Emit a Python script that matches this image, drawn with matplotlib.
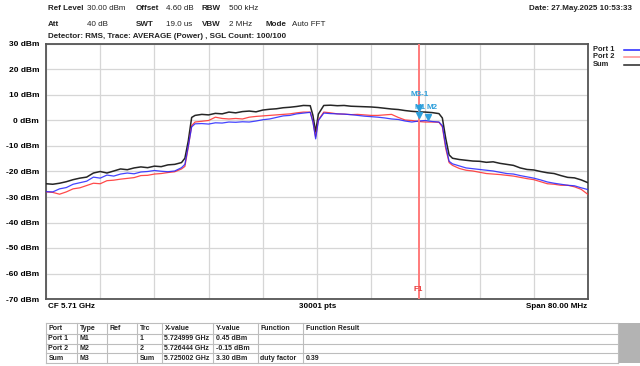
import matplotlib
matplotlib.use("Agg")
import matplotlib.pyplot as plt
from matplotlib.patches import Rectangle

plt.rcParams["font.family"] = ["Liberation Sans", "DejaVu Sans"]

# frequency offset from start (MHz), start = CF - span/2
CF_GHZ = 5.71
SPAN_MHZ = 80.0
offset_mhz = [
    0, 1, 2, 3, 4, 5, 6, 7, 8, 9, 10, 11, 12, 13, 14, 15, 16, 17, 18, 19, 20,
    20.5, 21, 21.5,
    22, 23, 24, 25, 26, 27, 28, 29, 30, 31, 32, 33, 34, 35, 36, 37, 38, 39,
    39.4, 39.8, 40.2,
    41, 42, 43, 44, 45, 46, 47, 48, 49, 50, 51, 52, 53, 54, 55, 56, 57, 58,
    58.5, 59, 59.5,
    60, 61, 62, 63, 64, 65, 66, 67, 68, 69, 70, 71, 72, 73, 74, 75, 76, 77, 78, 79, 80,
]
sum_dbm = [
    -24.8, -25.0, -24.6, -24.0, -23.2, -22.6, -22.2, -20.6, -20.0, -20.6, -19.8,
    -19.0, -19.3, -18.6, -18.2, -18.5, -17.9, -18.1, -17.4, -17.2, -16.5,
    -14.8, -8.0, 1.2,
    2.0, 2.4, 2.2, 2.8, 2.6, 3.3, 3.0, 3.5, 3.7, 3.4, 4.1, 4.4, 4.6, 5.0, 5.2, 5.5, 5.9, 5.8,
    2.0, -4.5, 2.5,
    5.9, 6.0, 5.8, 5.9, 5.6, 5.5, 5.4, 5.3, 5.1, 4.8, 4.5, 4.3, 3.9, 3.6, 3.4, 3.3, 3.1, 2.7,
    1.0, -7.0, -13.5,
    -14.8, -15.3, -15.6, -15.9, -16.0, -16.4, -16.2, -16.8, -17.2, -17.6, -18.6,
    -19.2, -19.4, -20.0, -20.5, -20.8, -21.6, -22.3, -22.5, -23.3, -24.4,
]
port1_dbm = [
    -27.9, -28.0, -26.8, -26.3, -25.0, -24.4, -23.8, -22.2, -22.6, -21.4, -21.8,
    -21.0, -20.6, -20.9, -20.2, -20.0, -19.6, -19.9, -20.1, -19.8, -18.5,
    -17.2, -10.0, -2.5,
    -1.3, -1.2, -1.4, -0.9, -1.0, -0.6, -0.7, -0.5, -0.6, -0.2, 0.3, 0.6, 1.2, 1.8, 2.0, 2.6, 2.9, 3.2,
    -0.5, -7.2, 0.0,
    2.9, 2.7, 2.6, 2.5, 2.3, 2.0, 1.7, 1.5, 1.3, 1.0, 0.6, 0.4, -0.2, -0.6, -0.2, 0.0, -0.4, -0.6,
    -2.0, -10.0, -16.0,
    -17.0, -17.8, -18.6, -18.9, -19.2, -19.5, -19.8, -20.3, -20.8, -21.0, -21.6,
    -22.1, -22.6, -23.3, -24.1, -24.6, -25.0, -25.4, -25.6, -26.4, -27.1,
]
port2_dbm = [
    -28.0, -28.2, -28.9, -28.0, -26.8, -26.4, -25.5, -24.6, -24.8, -23.6, -23.4,
    -23.0, -22.7, -22.4, -21.6, -21.5, -21.0, -20.8, -20.4, -20.1, -19.0,
    -18.0, -10.5, -2.0,
    -0.6, -0.3, 0.0, 1.3, 0.8, 0.6, 0.8, 0.6, 1.3, 1.6, 1.8, 2.0, 2.2, 2.4, 2.6, 3.0, 3.3, 3.3,
    -0.5, -6.5, 0.2,
    3.3, 3.0, 2.6, 2.5, 2.3, 2.4, 2.2, 2.0, 2.0, 2.2, 2.4, 1.2, 0.2, 0.0, -0.4, -0.6, -0.6, -0.7,
    -2.5, -11.0, -16.5,
    -17.6, -18.8, -19.5, -19.8, -20.3, -20.8, -21.0, -21.2, -21.5, -21.8, -22.3,
    -22.8, -23.2, -24.0, -24.8, -25.0, -25.4, -25.4, -26.0, -27.0, -29.0,
]

y_ticks = [30, 20, 10, 0, -10, -20, -30, -40, -50, -60, -70]
f1_ghz = 5.725
marker_names = ["M1", "M2", "M3"]
marker_x_ghz = [5.724999, 5.726444, 5.725002]
marker_y_dbm = [0.45, -0.15, 3.30]

header_rows = [
    [("Ref Level", True, 48), ("30.00 dBm", False, 87), ("Offset", True, 136),
     ("4.60 dB", False, 166), ("RBW", True, 202), ("500 kHz", False, 229)],
    [("Att", True, 48), ("40 dB", False, 87), ("SWT", True, 136),
     ("19.0 us", False, 166), ("VBW", True, 202), ("2 MHz", False, 229),
     ("Mode", True, 266), ("Auto FFT", False, 292)],
]
table_cols = ["Port", "Type", "Ref", "Trc", "X-value", "Y-value", "Function", "Function Result"]
table_rows = [
    ["Port 1", "M1", "", "1", "5.724999 GHz", "0.45 dBm", "", ""],
    ["Port 2", "M2", "", "2", "5.726444 GHz", "-0.15 dBm", "", ""],
    ["Sum", "M3", "", "Sum", "5.725002 GHz", "3.30 dBm", "duty factor", "0.39"],
]

BLUE, RED, BLACK = "#2323ff", "#ff2a2a", "#262626"
MARK = "#2e9fdb"
W, H = 640, 366

freq = [CF_GHZ - SPAN_MHZ / 2000 + o / 1000 for o in offset_mhz]
f_lo, f_hi = CF_GHZ - SPAN_MHZ / 2000, CF_GHZ + SPAN_MHZ / 2000

fig = plt.figure(figsize=(6.4, 3.66), dpi=100)
fig.patch.set_facecolor("white")

# main trace area
x0, x1, y0, y1 = 46, 588, 44, 299
ax = fig.add_axes([x0 / W, 1 - y1 / H, (x1 - x0) / W, (y1 - y0) / H])
ax.plot(freq, sum_dbm, color=BLACK, lw=1.1, zorder=3)
ax.plot(freq, port2_dbm, color=RED, lw=0.9, alpha=0.85, zorder=4)
ax.plot(freq, port1_dbm, color=BLUE, lw=0.9, alpha=0.85, zorder=4)
ax.set_xlim(f_lo, f_hi)
ax.set_ylim(-70, 30)
ax.set_xticks([f_lo + i * (f_hi - f_lo) / 10 for i in range(11)])
ax.set_xticklabels([])
ax.set_yticks(y_ticks, [f"{v} dBm" for v in y_ticks])
ax.tick_params(length=0, labelsize=6.0, pad=5)
for lbl in ax.get_yticklabels():
    lbl.set_fontweight("bold")
ax.grid(True, color="#d6d6d6", lw=0.9)
ax.set_axisbelow(True)
for sp in ax.spines.values():
    sp.set_color("#555555")
    sp.set_linewidth(1.3)

# F1 frequency line and markers
ax.axvline(f1_ghz, color="#ff7b7b", lw=1.4, zorder=5)
ax.text(f1_ghz, -67.5, "F1", color="#e83a3a", fontsize=5.8, fontweight="bold",
        ha="center", va="bottom", zorder=6)
for name, mx, my in zip(marker_names, marker_x_ghz, marker_y_dbm):
    ax.plot(mx, my + 1.6, marker="v", ms=5, color=MARK, mec=MARK, zorder=7)
ax.text(5.7252, 10.0, "M3-1", color=MARK, fontsize=5.8, fontweight="bold",
        ha="center", va="center", zorder=7)
ax.text(5.7244, 5.0, "M1", color=MARK, fontsize=5.8, fontweight="bold",
        ha="left", va="center", zorder=7)
ax.text(5.7262, 5.0, "M2", color=MARK, fontsize=5.8, fontweight="bold",
        ha="left", va="center", zorder=7)

# overlay in pixel coordinates for header, legend, footer and table
ov = fig.add_axes([0, 0, 1, 1], zorder=-1)
ov.set_xlim(0, W)
ov.set_ylim(H, 0)
ov.axis("off")

fs = 5.8
for row, yy in zip(header_rows, [9, 24]):
    for txt, bold, xx in row:
        ov.text(xx, yy, txt, fontsize=fs, fontweight="bold" if bold else "normal",
                ha="left", va="center", color="#222222")
ov.text(529, 9, "Date: 27.May.2025 10:53:33", fontsize=fs, fontweight="bold",
        ha="left", va="center", color="#222222")
ov.text(48, 36, "Detector: RMS, Trace: AVERAGE (Power) , SGL Count: 100/100",
        fontsize=fs, fontweight="bold", ha="left", va="center", color="#222222")

# legend
for lbl, col, yy in [("Port 1", BLUE, 49.5), ("Port 2", "#ff8f8f", 57), ("Sum", BLACK, 64.5)]:
    ov.text(593, yy, lbl, fontsize=5.4, fontweight="bold", ha="left", va="center",
            color="#222222")
    ov.plot([624, 640], [yy, yy], color=col, lw=1.1)

# footer
ov.text(48, 306, "CF 5.71 GHz", fontsize=fs, fontweight="bold", ha="left", va="center")
ov.text(318, 306, "30001 pts", fontsize=fs, fontweight="bold", ha="center", va="center")
ov.text(587, 306, "Span 80.00 MHz", fontsize=fs, fontweight="bold", ha="right", va="center")

# marker table
col_edges = [46, 77, 107, 137, 162, 213, 258, 303, 618]
row_edges = [323, 334, 344, 353, 363]
ov.add_patch(Rectangle((618, 323), 22, 40, facecolor="#b3b3b3", edgecolor="none"))
for yy in row_edges:
    ov.plot([46, 618], [yy, yy], color="#bdbdbd", lw=0.8)
for xx in col_edges:
    ov.plot([xx, xx], [323, 363], color="#bdbdbd", lw=0.8)
for r, cells in enumerate([table_cols] + table_rows):
    yc = (row_edges[r] + row_edges[r + 1]) / 2
    for c, txt in enumerate(cells):
        ov.text(col_edges[c] + 2.5, yc, txt, fontsize=5.0, fontweight="bold",
                ha="left", va="center", color="#222222")

fig.savefig("out.png", dpi=100, facecolor="white")
